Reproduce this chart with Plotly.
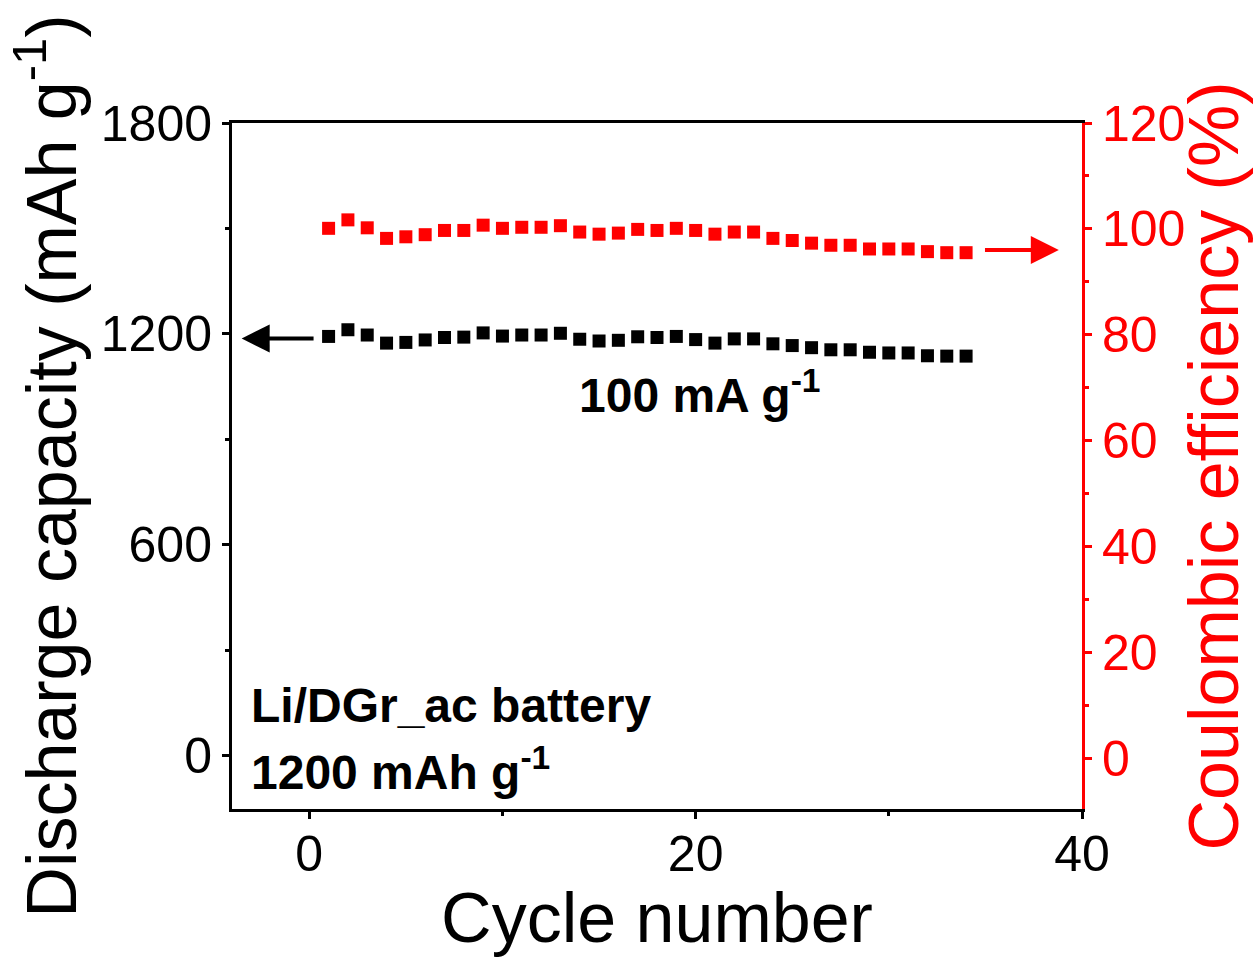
import plotly.graph_objects as go

cycles = list(range(1, 35))
capacity = [1193, 1212, 1197, 1174, 1176, 1183, 1190, 1191, 1203, 1194,
            1197, 1197, 1202, 1185, 1180, 1182, 1192, 1190, 1193, 1184,
            1174, 1186, 1186, 1172, 1167, 1161, 1155, 1155, 1148, 1146,
            1146, 1138, 1137, 1137]
efficiency = [100.1, 101.7, 100.2, 98.2, 98.5, 98.9, 99.7, 99.7, 100.7, 100.1,
              100.3, 100.3, 100.6, 99.4, 99.0, 99.2, 99.9, 99.7, 100.1, 99.7,
              99.0, 99.4, 99.4, 98.2, 97.8, 97.3, 96.9, 96.9, 96.2, 96.2,
              96.2, 95.7, 95.5, 95.5]

FONT = "Liberation Sans, Arial, sans-serif"

fig = go.Figure()
fig.add_trace(go.Scatter(x=cycles, y=capacity, mode="markers",
                         marker=dict(symbol="square", size=13, color="black"),
                         yaxis="y", showlegend=False))
fig.add_trace(go.Scatter(x=cycles, y=efficiency, mode="markers",
                         marker=dict(symbol="square", size=13, color="red"),
                         yaxis="y2", showlegend=False))

fig.update_layout(
    width=1253, height=957,
    margin=dict(l=232, r=171, t=123, b=146),
    plot_bgcolor="white", paper_bgcolor="white",
    font=dict(family=FONT, color="black"),
    xaxis=dict(range=[-4, 40], dtick=20, tick0=0, showgrid=False, zeroline=False,
               showline=True, linecolor="black", linewidth=3, mirror=True,
               ticks="outside", ticklen=7, tickwidth=3, tickcolor="black",
               ticklabelstandoff=-8,
               tickfont=dict(size=50, family=FONT, color="black"),
               minor=dict(dtick=10, ticks="outside", ticklen=4, tickwidth=3, tickcolor="black"),
               title=dict(text="Cycle number", font=dict(size=70, family=FONT, color="black"),
                          standoff=14)),
    yaxis=dict(range=[-151, 1800], dtick=600, tick0=0, showgrid=False, zeroline=False,
               showline=True, linecolor="black", linewidth=3,
               ticks="outside", ticklen=7, tickwidth=3, tickcolor="black",
               tickfont=dict(size=50, family=FONT, color="black"),
               minor=dict(dtick=300, ticks="outside", ticklen=4, tickwidth=3, tickcolor="black"),
               title=dict(text="Discharge capacity (mAh g<sup>-1</sup>)",
                          font=dict(size=70, family=FONT, color="black"), standoff=2)),
    yaxis2=dict(range=[-9.6, 120], dtick=20, tick0=0, overlaying="y", side="right",
                showgrid=False, zeroline=False,
                showline=True, linecolor="red", linewidth=3,
                ticks="outside", ticklen=7, tickwidth=3, tickcolor="red",
                tickfont=dict(size=50, family=FONT, color="red"),
                minor=dict(dtick=10, ticks="outside", ticklen=4, tickwidth=3, tickcolor="red"),
                title=dict(text="Coulombic efficiency (%)",
                           font=dict(size=70, family=FONT, color="red"), standoff=0)),
)

fig.add_annotation(x=-3.5, y=1187, ax=0.3, ay=1187, xref="x", yref="y", axref="x", ayref="y",
                   showarrow=True, arrowhead=2, arrowsize=1.4, arrowwidth=4, arrowcolor="black", text="")
fig.add_annotation(x=38.8, y=96, ax=34.9, ay=96, xref="x", yref="y2", axref="x", ayref="y2",
                   showarrow=True, arrowhead=2, arrowsize=1.4, arrowwidth=4, arrowcolor="red", text="")

fig.add_annotation(x=20.2, y=1034, xref="x", yref="y", text="<b>100 mA g<sup>-1</sup></b>",
                   showarrow=False, font=dict(size=48, family=FONT, color="black"))
fig.add_annotation(x=-3.13, y=144, xref="x", yref="y", text="<b>Li/DGr_ac battery</b>",
                   showarrow=False, xanchor="left", font=dict(size=48, family=FONT, color="black"))
fig.add_annotation(x=-3.13, y=-38, xref="x", yref="y", text="<b>1200 mAh g<sup>-1</sup></b>",
                   showarrow=False, xanchor="left", font=dict(size=48, family=FONT, color="black"))

fig.write_html("out.html")
